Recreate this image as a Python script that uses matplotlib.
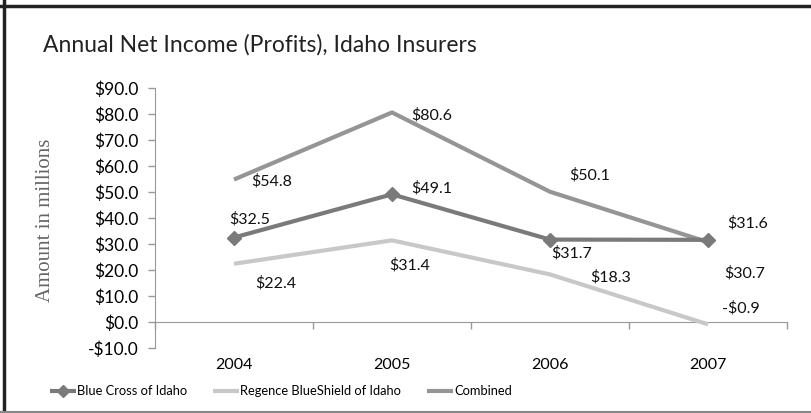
import numpy as np
import matplotlib.pyplot as plt
from matplotlib.lines import Line2D
import matplotlib.transforms as mtransforms

years = ["2004", "2005", "2006", "2007"]
blue_cross = [32.5, 49.1, 31.7, 31.6]
regence = [22.4, 31.4, 18.3, -0.9]
combined = [54.8, 80.6, 50.1, 30.7]
y_ticks = [-10, 0, 10, 20, 30, 40, 50, 60, 70, 80, 90]

# label offsets (pixels) for each series point
bc_off = [(16, 18), (40, 6), (22, -14), (40, 17)]
rg_off = [(42, -19), (18, -25), (61, -3), (33, 16)]
cb_off = [(38, -2), (40, -3), (40, 16), (37, -31)]

plt.rcParams['font.family'] = ['Lato', 'DejaVu Sans']

fig = plt.figure(figsize=(8.12, 4.13), dpi=100)
ax = fig.add_axes([0.1909, 0.1574, 0.7783, 0.6295])

x = np.arange(len(years))
ax.plot(x, combined, color='#959595', lw=3, solid_capstyle='butt', label='Combined', zorder=3)
ax.plot(x, regence, color='#c8c8c8', lw=3, solid_capstyle='butt',
        label='Regence BlueShield of Idaho', zorder=3)
ax.plot(x, blue_cross, color='#7a7a7a', lw=3, marker='D', ms=7.5, solid_capstyle='butt',
        label='Blue Cross of Idaho', zorder=4)

def fmt(v):
    return ("-$%.1f" % -v) if v < 0 else ("$%.1f" % v)

for vals, offs in ((blue_cross, bc_off), (regence, rg_off), (combined, cb_off)):
    for i, v in enumerate(vals):
        ax.annotate(fmt(v), (i, v), xytext=offs[i], textcoords='offset pixels',
                    ha='center', va='center', fontsize=11.5, color='#111111')

ax.set_xlim(-0.5, len(years) - 0.5)
ax.set_ylim(-10, 90)
ax.set_yticks(y_ticks)
ax.set_yticklabels([fmt(v) for v in y_ticks], fontsize=12.5)
ax.tick_params(axis='y', length=5, color='#999999', width=1, pad=7)

ax.spines['top'].set_visible(False)
ax.spines['right'].set_visible(False)
ax.spines['left'].set_color('#999999')
ax.spines['bottom'].set_color('#999999')
ax.spines['bottom'].set_position(('data', 0))
ax.set_xticks(np.arange(len(years) + 1) - 0.5)
ax.set_xticklabels([])
ax.tick_params(axis='x', length=5, color='#999999', width=1)

trans = mtransforms.blended_transform_factory(ax.transData, ax.transAxes)
for i, yr in enumerate(years):
    ax.text(i, -0.065, yr, transform=trans, ha='center', va='center', fontsize=11.5)

fig.text(0.056, 0.467, 'Amount in millions', rotation=90, ha='center', va='center',
         family='Liberation Serif', fontsize=15, color='#666666')
fig.text(0.053, 0.875, 'Annual Net Income (Profits), Idaho Insurers', ha='left',
         va='baseline', fontsize=16.5, color='#222222')

handles, labels = ax.get_legend_handles_labels()
order = [2, 1, 0]
fig.legend([handles[i] for i in order], [labels[i] for i in order], loc='center',
           bbox_to_anchor=(0.346, 0.053), ncol=3, frameon=False, fontsize=9.3,
           handlelength=2.0, handletextpad=0.1, columnspacing=2.0, markerscale=0.8)

# figure frame
fig.add_artist(Line2D([0.0055, 0.0055], [0, 1], transform=fig.transFigure, color='#222222', lw=2.5))
fig.add_artist(Line2D([0, 1], [0.985, 0.985], transform=fig.transFigure, color='#222222', lw=2.5))
fig.add_artist(Line2D([0, 1], [0.003, 0.003], transform=fig.transFigure, color='#888888', lw=1.5))

fig.savefig('out.png', dpi=100)
